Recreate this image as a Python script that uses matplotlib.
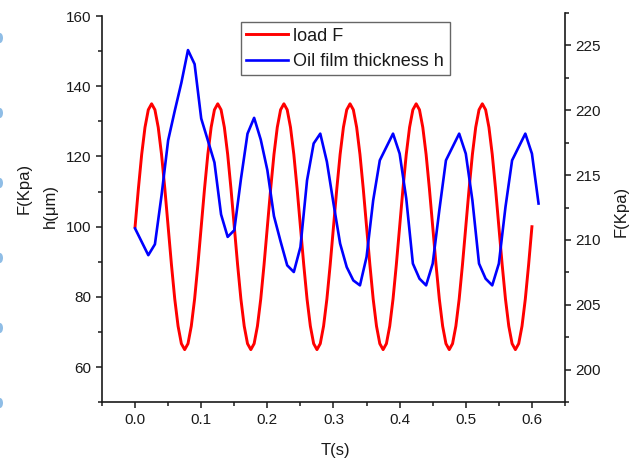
import numpy as np
import matplotlib
matplotlib.use("Agg")
import matplotlib.pyplot as plt
from matplotlib.patches import Ellipse
from matplotlib.ticker import MultipleLocator

plt.rcParams['font.family'] = ['Liberation Sans', 'DejaVu Sans']

# load F sampled every 5 ms (0.0 .. 0.6 s)
t_load = np.round(np.arange(121) * 0.005, 3)
load_F = [
    100, 110.8, 120.6, 128.3, 133.3, 135, 133.3, 128.3, 120.6, 110.8,
    100, 89.2, 79.4, 71.7, 66.7, 65, 66.7, 71.7, 79.4, 89.2,
    100, 110.8, 120.6, 128.3, 133.3, 135, 133.3, 128.3, 120.6, 110.8,
    100, 89.2, 79.4, 71.7, 66.7, 65, 66.7, 71.7, 79.4, 89.2,
    100, 110.8, 120.6, 128.3, 133.3, 135, 133.3, 128.3, 120.6, 110.8,
    100, 89.2, 79.4, 71.7, 66.7, 65, 66.7, 71.7, 79.4, 89.2,
    100, 110.8, 120.6, 128.3, 133.3, 135, 133.3, 128.3, 120.6, 110.8,
    100, 89.2, 79.4, 71.7, 66.7, 65, 66.7, 71.7, 79.4, 89.2,
    100, 110.8, 120.6, 128.3, 133.3, 135, 133.3, 128.3, 120.6, 110.8,
    100, 89.2, 79.4, 71.7, 66.7, 65, 66.7, 71.7, 79.4, 89.2,
    100, 110.8, 120.6, 128.3, 133.3, 135, 133.3, 128.3, 120.6, 110.8,
    100, 89.2, 79.4, 71.7, 66.7, 65, 66.7, 71.7, 79.4, 89.2,
    100,
]

# oil film thickness h sampled every 10 ms (0.0 .. 0.61 s)
t_film = np.round(np.arange(62) * 0.01, 2)
film_h = [
    99.5, 95.7, 91.9, 95.0, 108.9, 124.6, 133.0, 141.0, 150.3, 146.3,
    130.8, 124.6, 118.3, 103.5, 97.1, 99.0, 113.5, 126.5, 131.0, 124.8,
    116.1, 103.0, 95.8, 89.0, 87.1, 94.2, 113.2, 123.7, 126.5, 118.5,
    106.6, 95.2, 88.5, 84.7, 83.3, 91.4, 107.5, 118.9, 122.7, 126.5,
    120.8, 108.0, 89.5, 85.2, 83.3, 89.5, 104.7, 118.9, 122.7, 126.5,
    120.8, 107.5, 89.5, 85.2, 83.3, 89.5, 105.6, 118.9, 122.7, 126.5,
    120.8, 106.6,
]

x_ticks = [0.0, 0.1, 0.2, 0.3, 0.4, 0.5, 0.6]
left_ticks = [60, 80, 100, 120, 140, 160]
right_ticks = [200, 205, 210, 215, 220, 225]

W, H = 635, 463
fig = plt.figure(figsize=(W / 100, H / 100), dpi=100)
ax = fig.add_axes([102 / W, 1 - 402.3 / H, (565 - 102) / W, (402.3 - 12.7) / H])
ax2 = ax.twinx()

ink = '#1a1a1a'
ax.plot(t_load, load_F, color='#ff0000', lw=2.1, label='load F', zorder=3)
ax.plot(t_film, film_h, color='#0000ff', lw=1.9, label='Oil film thickness h', zorder=4)

ax.set_xlim(-0.05, 0.65)
ax.set_ylim(50, 160.94)
ax2.set_ylim(197.5, 227.5)

ax.set_xticks(x_ticks)
ax.set_xticklabels([f'{v:.1f}' for v in x_ticks])
ax.xaxis.set_minor_locator(MultipleLocator(0.05))
ax.set_yticks(left_ticks)
ax.yaxis.set_minor_locator(MultipleLocator(10))
ax2.set_yticks(right_ticks)
ax2.yaxis.set_minor_locator(MultipleLocator(2.5))

for a in (ax, ax2):
    a.spines['top'].set_visible(False)
    for s in a.spines.values():
        s.set_linewidth(1.2)
        s.set_color(ink)
    a.tick_params(which='major', direction='out', length=4.5, width=1.1,
                  colors=ink, labelsize=11, pad=3)
    a.tick_params(which='minor', direction='out', length=3, width=1.1, colors=ink)
ax.spines['right'].set_visible(False)
ax2.spines['left'].set_visible(False)
ax2.spines['bottom'].set_visible(False)
ax.spines['left'].set_bounds(50, 160)

fig.text(24 / W, 1 - 188 / H, 'F(Kpa)', rotation=90, ha='center', va='center',
         fontsize=12, color=ink)
fig.text(50 / W, 1 - 206 / H, 'h(μm)', rotation=90, ha='center', va='center',
         fontsize=12, color=ink)
fig.text(621 / W, 1 - 211 / H, 'F(Kpa)', rotation=90, ha='center', va='center',
         fontsize=12, color=ink)
fig.text(335 / W, 1 - 450 / H, 'T(s)', ha='center', va='center',
         fontsize=12, color=ink)

leg = ax.legend(loc='upper left', bbox_to_anchor=(241 / W, 1 - 22.3 / H),
                bbox_transform=fig.transFigure, borderaxespad=0,
                fontsize=13, handlelength=2.3, handletextpad=0.3,
                borderpad=0.3, labelspacing=0.45, fancybox=False,
                framealpha=1, edgecolor='#666666')
leg.get_frame().set_linewidth(1.0)
for txt in leg.get_texts():
    txt.set_color(ink)

# small marks along the left border
for yc in [38, 113, 183, 258, 328, 403]:
    fig.add_artist(Ellipse((0, 1 - yc / H), 6 / W, 10 / H,
                           transform=fig.transFigure, color='#8fbde6', lw=0))

fig.savefig('out.png', dpi=100)
